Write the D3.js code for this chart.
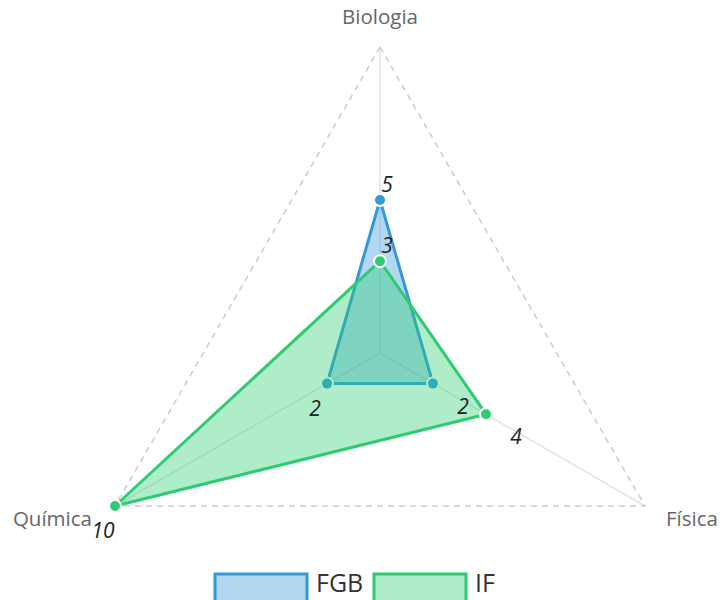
<!DOCTYPE html>
<html>
<head>
<meta charset="utf-8">
<script src="https://cdn.jsdelivr.net/npm/d3@7"></script>
<style>
  html, body { margin: 0; padding: 0; background: #fff; }
  svg { display: block; font-family: "Open Sans", sans-serif; }
</style>
</head>
<body>
<svg id="chart" width="720" height="600"></svg>
<script>
// Radar axes and the two series
const axes = ["Biologia", "Física", "Química"];
const seriesNames = ["FGB", "IF"];
const fgbValues = [5, 2, 2];
const ifValues = [3, 4, 10];
const maxValue = 10;

const colors = { FGB: "#3498db", IF: "#2ecc71" };
const series = [
  { name: "FGB", values: fgbValues },
  { name: "IF", values: ifValues }
];

const svg = d3.select("#chart");
const cx = 380, cy = 353, R = 306;

// angle for each axis: first axis points straight up, going clockwise
const angle = d3.scalePoint().domain(axes).range([0, 2 * Math.PI * (axes.length - 1) / axes.length]);
const r = d3.scaleLinear().domain([0, maxValue]).range([0, R]);

function pt(axis, v) {
  const a = angle(axis) - Math.PI / 2;
  return [cx + r(v) * Math.cos(a), cy + r(v) * Math.sin(a)];
}

// grid: spokes and outer dashed ring
const grid = svg.append("g");
axes.forEach(a => {
  const [x, y] = pt(a, maxValue);
  grid.append("line")
    .attr("x1", cx).attr("y1", cy).attr("x2", x).attr("y2", y)
    .attr("stroke", "#e4e4e4").attr("stroke-width", 1.5);
});
grid.append("path")
  .attr("d", d3.line()(axes.map(a => pt(a, maxValue))) + "Z")
  .attr("fill", "none")
  .attr("stroke", "#cccccc")
  .attr("stroke-width", 1.5)
  .attr("stroke-dasharray", "6,5");

// axis names
const axisLabelPos = {
  "Biologia": { dx: 0, dy: -23, anchor: "middle" },
  "Física": { dx: 21, dy: 20, anchor: "start" },
  "Química": { dx: -23, dy: 20, anchor: "end" }
};
axes.forEach(a => {
  const [x, y] = pt(a, maxValue);
  const p = axisLabelPos[a];
  svg.append("text")
    .attr("x", x + p.dx).attr("y", y + p.dy)
    .attr("text-anchor", p.anchor)
    .attr("font-size", 20.5)
    .attr("fill", "#666")
    .text(a);
});

// value label offsets per axis
const valueLabelOffset = {
  "Biologia": [7, -16],
  "Física": [30, 22],
  "Química": [-12, 24]
};

const line = d3.line();
series.forEach(s => {
  const g = svg.append("g");
  const pts = axes.map((a, i) => pt(a, s.values[i]));
  g.append("path")
    .attr("d", line(pts) + "Z")
    .attr("fill", colors[s.name])
    .attr("fill-opacity", 0.38)
    .attr("stroke", colors[s.name])
    .attr("stroke-width", 3)
    .attr("stroke-linejoin", "round");
  g.selectAll("circle").data(pts).join("circle")
    .attr("cx", d => d[0]).attr("cy", d => d[1])
    .attr("r", 6)
    .attr("fill", colors[s.name])
    .attr("stroke", "#fff")
    .attr("stroke-width", 2);
  s.labels = axes.map((a, i) => {
    const [x, y] = pts[i];
    const o = valueLabelOffset[a];
    return { x: x + o[0], y: y + o[1], v: s.values[i] };
  });
});

// value labels on top
series.forEach(s => {
  svg.append("g").selectAll("text").data(s.labels).join("text")
    .attr("x", d => d.x).attr("y", d => d.y)
    .attr("text-anchor", "middle")
    .attr("dominant-baseline", "central")
    .attr("font-size", 21)
    .attr("font-style", "italic")
    .attr("fill", "#222")
    .text(d => d.v);
});

// legend
const legend = svg.append("g");
const legendItems = [
  { name: "FGB", x: 215 },
  { name: "IF", x: 374 }
];
legendItems.forEach(it => {
  legend.append("rect")
    .attr("x", it.x).attr("y", 574)
    .attr("width", 92).attr("height", 40)
    .attr("fill", colors[it.name])
    .attr("fill-opacity", 0.38)
    .attr("stroke", colors[it.name])
    .attr("stroke-width", 3);
  legend.append("text")
    .attr("x", it.x + 101).attr("y", 592)
    .attr("font-size", 25)
    .attr("fill", "#333")
    .text(it.name);
});
</script>
</body>
</html>
